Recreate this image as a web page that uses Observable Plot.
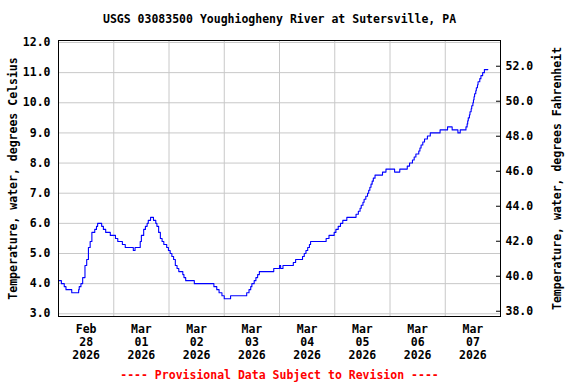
<!DOCTYPE html>
<html>
<head>
<meta charset="utf-8">
<script src="https://cdn.jsdelivr.net/npm/d3@7"></script>
<script src="https://cdn.jsdelivr.net/npm/@observablehq/plot@0.6"></script>
<style>
  html, body { margin: 0; padding: 0; background: #fff; }
</style>
</head>
<body>
<div id="chart"></div>
<script>
// ---- Data ----
const title = "USGS 03083500 Youghiogheny River at Sutersville, PA";
const yLabelLeft = "Temperature, water, degrees Celsius";
const yLabelRight = "Temperature, water, degrees Fahrenheit";
const footer = "---- Provisional Data Subject to Revision ----";

// hours after 2026-02-28 00:00 where the reading changes
const hours = [0, 1.25, 2.5, 3.25, 5.75, 8.75, 9, 9.75, 10.5, 11.5, 12.25, 13, 13.75, 14.5, 15.75, 16.5, 17,
  18.75, 19.5, 20.5, 22.5, 24.75, 25.75, 27.75, 29, 32.5, 33.25, 35.5, 36, 37, 37.75, 38.5, 39, 40,
  41.25, 42.25, 42.75, 43.5, 44.25, 45, 45.75, 47, 47.75, 48.5, 49.25, 50, 50.75, 51.5, 52.25, 54, 54.5, 55.25,
  59, 67.5, 68.75, 69.75, 71, 72, 74.75, 81.75, 82.75, 83.5, 84, 85, 85.75, 86.5, 87.25, 93.5, 96, 96.5, 97.5,
  102, 103, 106, 106.75, 107.5, 108.25, 109, 109.5, 116.25, 117.5, 119.75, 120.5, 121.5, 122.5, 123.5, 125.25,
  129.25, 130.25, 131, 131.5, 132.25, 132.75, 133.5, 134.25, 134.75, 135.25, 135.75, 136.25, 136.75, 137.5,
  140.75, 142.25, 146, 148.25, 151.5, 152.5, 153.75, 154.5, 155.25, 156.5, 157, 157.5, 158.25, 159, 160.25, 161.5,
  165.75, 169, 171, 173.5, 174.5, 177, 177.5, 177.75, 178, 178.5, 178.75, 179.25, 179.5, 180, 180.25, 180.5, 180.75,
  181.25, 181.5, 182, 182.25, 183, 183.5, 184.25, 185, 186.5];
const tempC = [4.1, 4.0, 3.9, 3.8, 3.7, 3.8, 3.9, 4.0, 4.2, 4.6, 4.8, 5.2, 5.4, 5.7, 5.8, 5.9, 6.0,
  5.9, 5.8, 5.7, 5.6, 5.5, 5.4, 5.3, 5.2, 5.1, 5.2, 5.4, 5.6, 5.8, 5.9, 6.0, 6.1, 6.2,
  6.1, 6.0, 5.9, 5.7, 5.5, 5.4, 5.3, 5.2, 5.1, 5.0, 4.9, 4.8, 4.6, 4.5, 4.4, 4.3, 4.2, 4.1,
  4.0, 3.9, 3.8, 3.7, 3.6, 3.5, 3.6, 3.7, 3.8, 3.9, 4.0, 4.1, 4.2, 4.3, 4.4, 4.5, 4.6, 4.5, 4.6,
  4.7, 4.8, 4.9, 5.0, 5.1, 5.2, 5.3, 5.4, 5.5, 5.6, 5.7, 5.8, 5.9, 6.0, 6.1, 6.2,
  6.3, 6.4, 6.5, 6.6, 6.7, 6.8, 6.9, 7.0, 7.1, 7.2, 7.3, 7.4, 7.5, 7.6,
  7.7, 7.8, 7.7, 7.8, 7.9, 8.0, 8.1, 8.2, 8.3, 8.4, 8.5, 8.6, 8.7, 8.8, 8.9, 9.0,
  9.1, 9.2, 9.1, 9.0, 9.1, 9.2, 9.3, 9.4, 9.5, 9.6, 9.7, 9.8, 9.9, 10.0, 10.1, 10.2, 10.3,
  10.4, 10.5, 10.6, 10.7, 10.8, 10.9, 11.0, 11.1, 11.1];

const xMonths = ["Feb", "Mar", "Mar", "Mar", "Mar", "Mar", "Mar", "Mar"];
const xDays = ["28", "01", "02", "03", "04", "05", "06", "07"];
const xYears = ["2026", "2026", "2026", "2026", "2026", "2026", "2026", "2026"];
const cTicks = [3, 4, 5, 6, 7, 8, 9, 10, 11, 12];
const fTicks = [38, 40, 42, 44, 46, 48, 50, 52];

// axis extents
const cDomain = [2.91, 12.066];
const fDomain = [37.70, 53.47];
const start = Date.UTC(2026, 1, 28);
const end = Date.UTC(2026, 2, 8);
const HOUR = 3600e3, DAY = 24 * HOUR;

// ---- Build ----
const data = hours.map((h, i) => ({date: new Date(start + h * HOUR), temp: tempC[i]}));
const labelTicks = xDays.map((_, i) => new Date(start + i * DAY + 12 * HOUR));
const labelText = new Map(labelTicks.map((d, i) => [+d, `${xMonths[i]}\n${xDays[i]}\n${xYears[i]}`]));
const gridDays = d3.range(1, 8).map(i => new Date(start + i * DAY));
const fToC = f => cDomain[0] + (f - fDomain[0]) / (fDomain[1] - fDomain[0]) * (cDomain[1] - cDomain[0]);
const cToF = c => fDomain[0] + (c - cDomain[0]) / (cDomain[1] - cDomain[0]) * (fDomain[1] - fDomain[0]);
const fTicksC = fTicks.map(fToC);

const W = 576, H = 384, mL = 58, mR = 76, mT = 40, mB = 68;
const frameW = W - mL - mR;

const chart = Plot.plot({
  width: W, height: H,
  marginLeft: mL, marginRight: mR, marginTop: mT, marginBottom: mB,
  style: {fontFamily: "'DejaVu Sans Mono', monospace", fontSize: "11.5px", fontWeight: "bold", color: "black", background: "white"},
  x: {type: "utc", domain: [new Date(start), new Date(end)]},
  y: {domain: cDomain},
  marks: [
    Plot.gridY(cTicks, {stroke: "#c8c8c8", strokeOpacity: 1}),
    Plot.gridX(gridDays, {stroke: "#c8c8c8", strokeOpacity: 1}),
    Plot.line(data, {x: "date", y: "temp", stroke: "#0000ff", strokeWidth: 1.1, curve: "step-after"}),
    Plot.axisY(cTicks, {anchor: "left", tickSize: 0, tickPadding: 8, tickFormat: d => d.toFixed(1), label: null}),
    Plot.axisY(fTicksC, {anchor: "right", tickSize: 0, tickPadding: 5, tickFormat: d => Math.round(cToF(d)).toFixed(1), label: null}),
    Plot.tickY(fTicksC, {y: d => d, insetLeft: frameW - 4, stroke: "black"}),
    Plot.axisX(labelTicks, {anchor: "bottom", tickSize: 0, tickPadding: 8, lineHeight: 1.1, tickFormat: d => labelText.get(+d), label: null}),
    Plot.frame({stroke: "black"}),
    Plot.text([title], {text: d => d, frameAnchor: "top", lineAnchor: "middle", textAnchor: "middle", dy: -21}),
    Plot.text([footer], {text: d => d, frameAnchor: "bottom", lineAnchor: "middle", textAnchor: "middle", dy: 59, fill: "#ff0000"}),
    Plot.text([yLabelLeft], {text: d => d, frameAnchor: "left", lineAnchor: "middle", textAnchor: "middle", rotate: -90, dx: -45}),
    Plot.text([yLabelRight], {text: d => d, frameAnchor: "right", lineAnchor: "middle", textAnchor: "middle", rotate: -90, dx: 57})
  ]
});
document.getElementById("chart").appendChild(chart);
</script>
</body>
</html>
